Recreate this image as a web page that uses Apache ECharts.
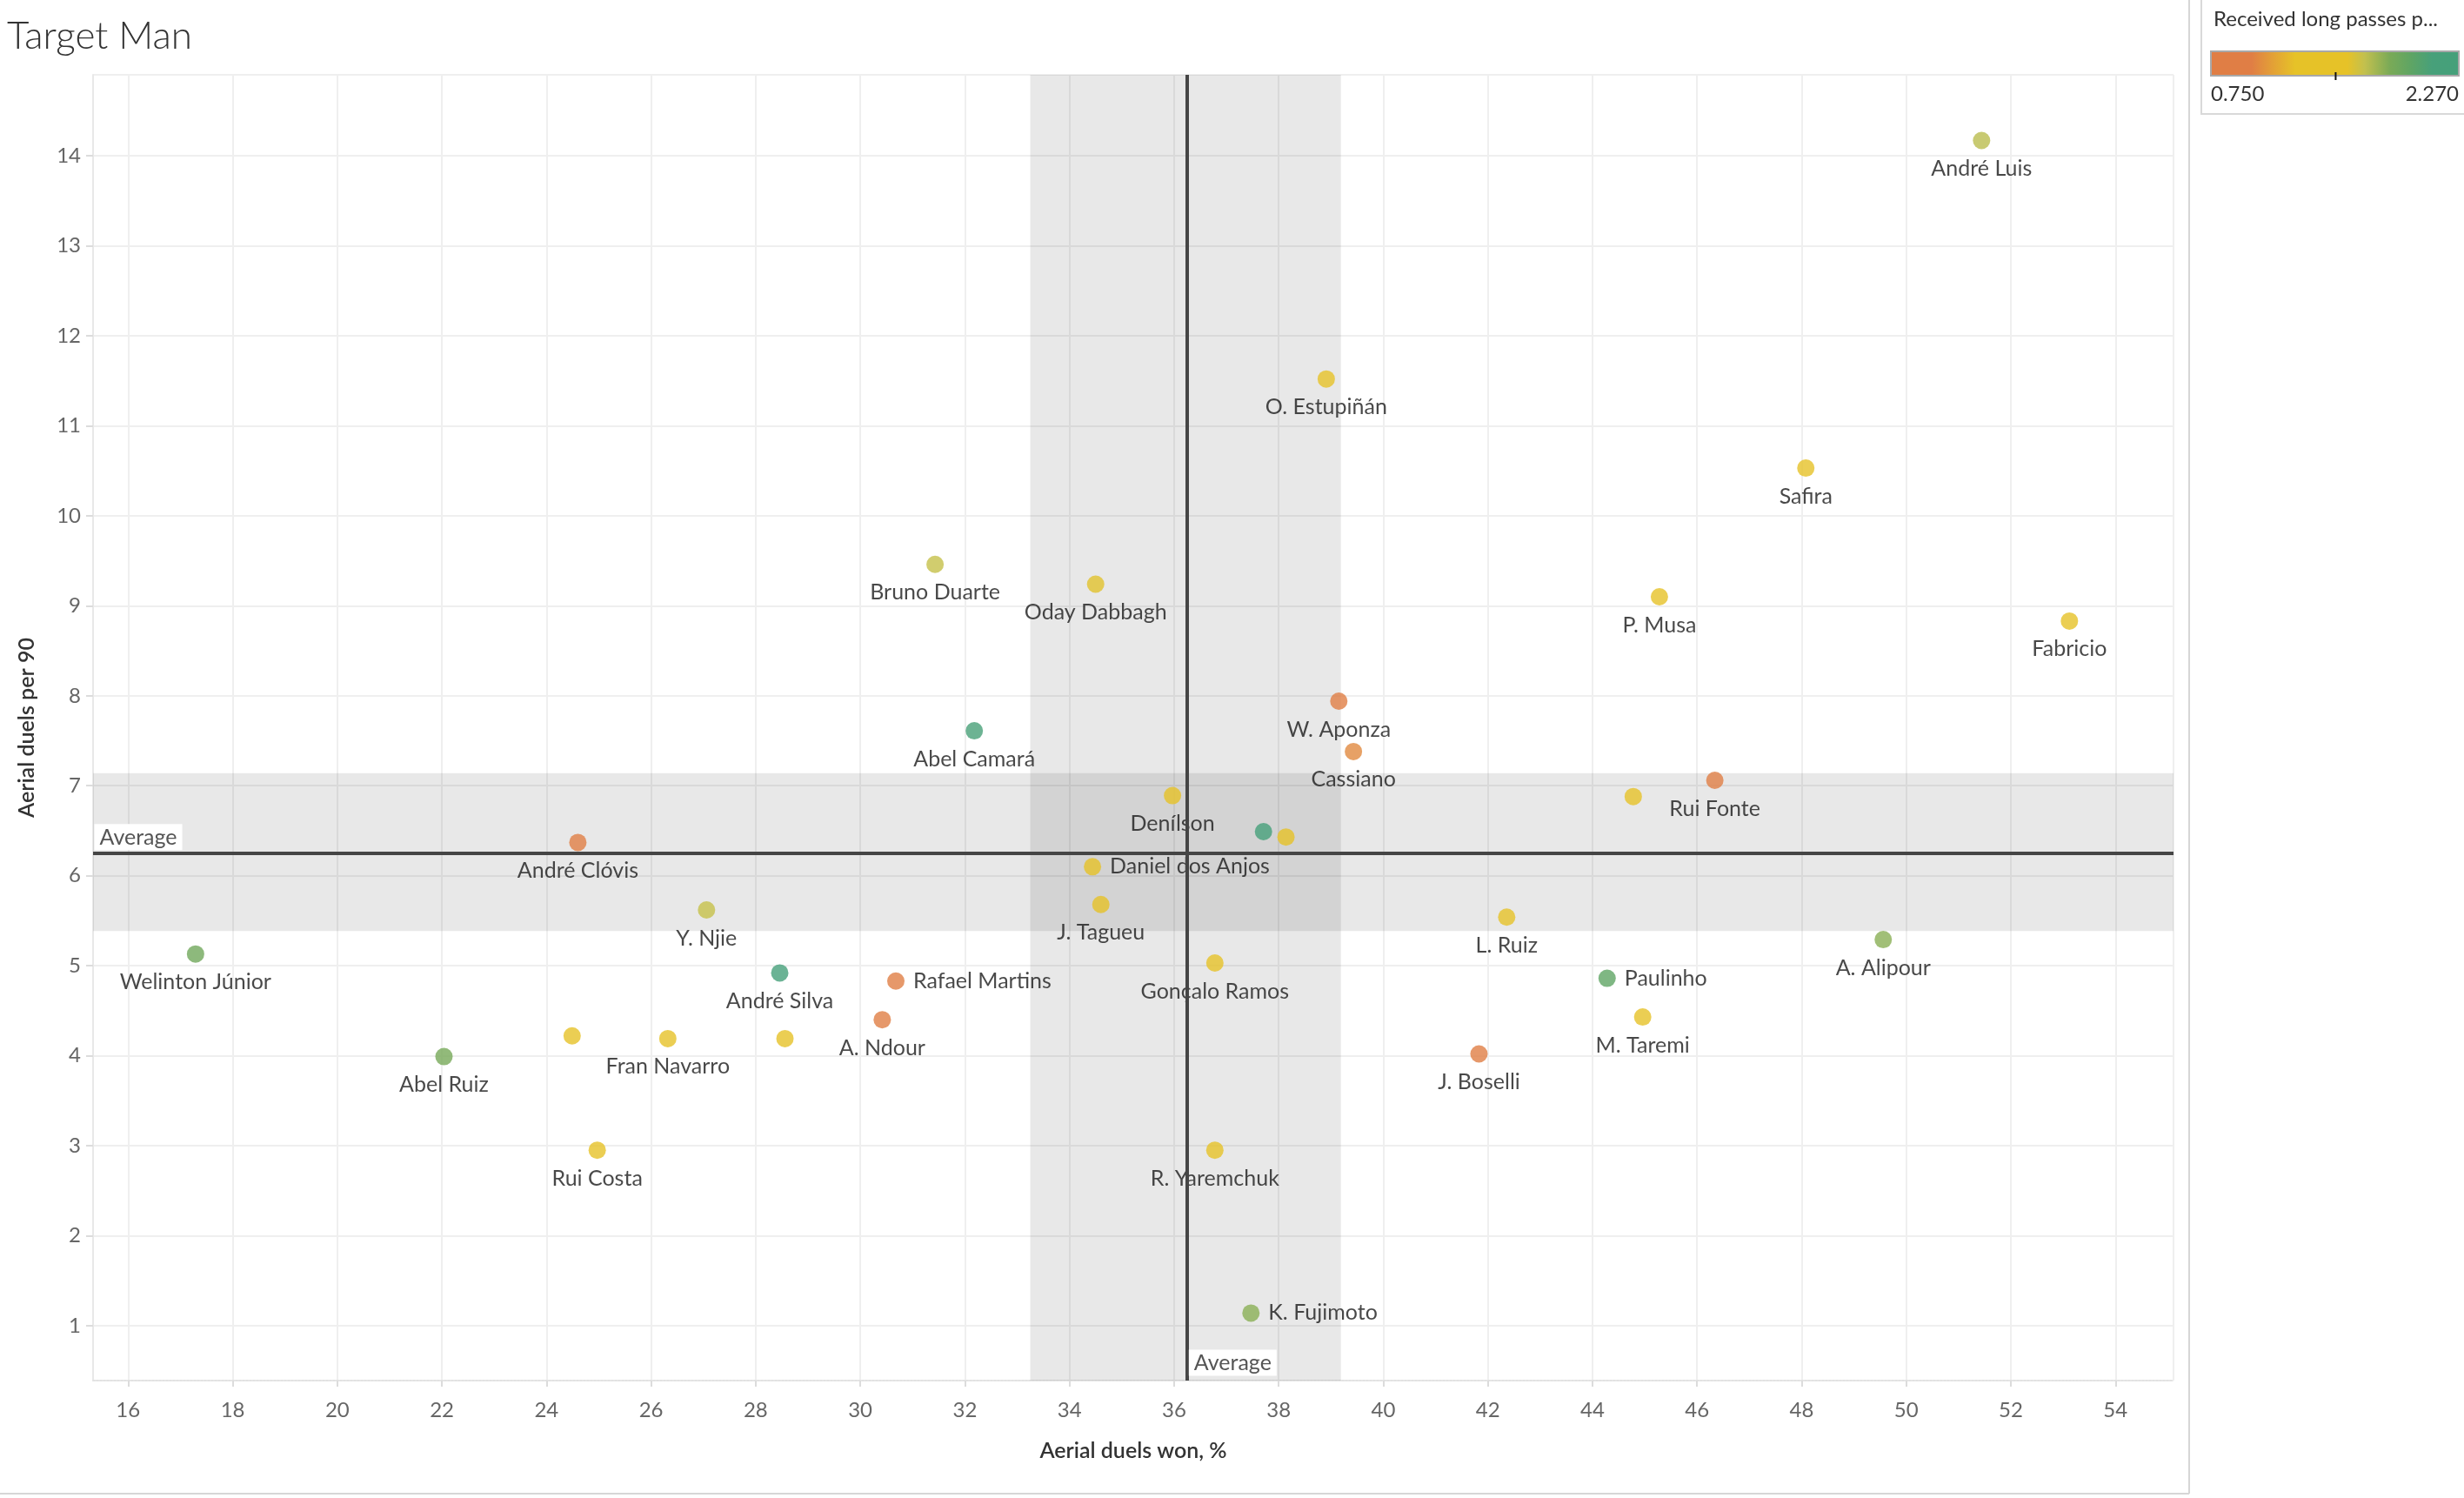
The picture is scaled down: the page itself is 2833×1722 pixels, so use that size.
<!DOCTYPE html>
<html>
<head>
<meta charset="utf-8">
<script src="https://cdn.jsdelivr.net/npm/echarts@6/dist/echarts.min.js"></script>
<style>
html,body{margin:0;padding:0;background:#fff;}
#chart{width:2833px;height:1722px;}
</style>
</head>
<body>
<div id="chart"></div>
<script>
// ---- data ----
const players = ["André Luis","O. Estupiñán","Safira","P. Musa","Fabricio","W. Aponza","Cassiano","Rui Fonte","","","","L. Ruiz","A. Alipour","Paulinho","M. Taremi","J. Boselli","K. Fujimoto","Gonçalo Ramos","R. Yaremchuk","Denílson","Daniel dos Anjos","J. Tagueu","André Clóvis","Y. Njie","Welinton Júnior","André Silva","Rafael Martins","A. Ndour","","Fran Navarro","","Abel Ruiz","Rui Costa","Bruno Duarte","Oday Dabbagh","Abel Camará"];
const aerialWonPct = [51.44,38.91,48.08,45.28,53.12,39.15,39.43,46.34,44.78,37.71,38.14,42.36,49.56,44.28,44.96,41.83,37.47,36.78,36.78,35.97,34.44,34.60,24.60,27.06,17.29,28.46,30.68,30.42,24.49,26.32,28.56,22.04,24.97,31.43,34.50,32.18];
const aerialPer90 = [14.17,11.52,10.53,9.10,8.83,7.94,7.38,7.06,6.88,6.49,6.43,5.54,5.29,4.86,4.43,4.02,1.14,5.03,2.95,6.89,6.10,5.68,6.37,5.62,5.13,4.92,4.83,4.40,4.22,4.19,4.19,3.99,2.95,9.46,9.24,7.61];
const longPassesP90 = [1.71,1.43,1.43,1.43,1.40,0.83,1.05,0.83,1.45,2.16,1.42,1.43,1.81,1.97,1.43,0.83,1.81,1.43,1.43,1.43,1.43,1.43,0.83,1.68,1.89,2.16,0.83,0.83,1.43,1.28,1.43,1.86,1.43,1.68,1.60,2.09];

const avgWonPct = 36.24;
const avgPer90 = 6.25;
const bandWonPct = [33.25, 39.19];
const bandPer90 = [5.385, 7.14];
const xRange = [15.33, 55.11];
const yRange = [0.39, 14.9];
const colorRange = [0.75, 2.27];
const colorRangeLabels = ["0.750", "2.270"];
const colorMidMark = 1.515;

// ---- styling config ----
const rightLabelled = new Set(["Daniel dos Anjos","Rafael Martins","Paulinho","K. Fujimoto"]);
const paletteStops = [[0,'#e07e45'],[0.167,'#e07e45'],[0.25,'#e3a036'],[0.34,'#e6c228'],[0.55,'#e6c228'],[0.62,'#c2c04e'],[0.72,'#7aaa57'],[0.8,'#60a563'],[0.89,'#47a07a'],[1,'#45a07a']];
const FONT = 'Lato, "Noto Sans", sans-serif';

function hexToRgb(h){h=h.replace('#','');return [parseInt(h.substr(0,2),16),parseInt(h.substr(2,2),16),parseInt(h.substr(4,2),16)];}
function colorFor(v){
  let t=(v-colorRange[0])/(colorRange[1]-colorRange[0]);
  t=Math.max(0,Math.min(1,t));
  for(let i=1;i<paletteStops.length;i++){
    const [t1,c1]=paletteStops[i-1],[t2,c2]=paletteStops[i];
    if(t<=t2){
      const f=t2===t1?0:(t-t1)/(t2-t1);
      const a=hexToRgb(c1),b=hexToRgb(c2);
      return 'rgb('+a.map((x,k)=>Math.round(x+(b[k]-x)*f)).join(',')+')';
    }
  }
  return paletteStops[paletteStops.length-1][1];
}

const points = players.map((n,i)=>{
  const item={value:[aerialWonPct[i],aerialPer90[i],longPassesP90[i],n],itemStyle:{color:colorFor(longPassesP90[i])}};
  if(rightLabelled.has(n)) item.label={position:'right',distance:10};
  return item;
});

const chart = echarts.init(document.getElementById('chart'));

// legend geometry
const lgX=2542, lgW=285, lgY=59, lgH=28;
const midFrac=(colorMidMark-colorRange[0])/(colorRange[1]-colorRange[0]);

const option = {
  animation:false,
  backgroundColor:'#fff',
  title:{text:'Target Man',left:3,top:15,textStyle:{fontFamily:FONT,fontSize:44,fontWeight:300,color:'#333'}},
  grid:{left:107,right:334,top:86,bottom:135},
  xAxis:{
    type:'value',min:xRange[0],max:xRange[1],splitNumber:20,
    name:'Aerial duels won, %',nameLocation:'middle',nameGap:68,
    nameTextStyle:{fontFamily:FONT,fontSize:25,fontWeight:600,color:'#333'},
    axisLine:{show:true,lineStyle:{color:'#e2e2e2',width:2,type:'dotted'}},
    axisTick:{show:true,length:7,lineStyle:{color:'#dcdcdc',width:2}},
    axisLabel:{showMinLabel:false,showMaxLabel:false,fontFamily:FONT,fontSize:24,color:'#666',margin:22},
    splitLine:{show:true,lineStyle:{color:'#efefef',width:2}}
  },
  yAxis:{
    type:'value',min:yRange[0],max:yRange[1],splitNumber:14,
    name:'Aerial duels per 90',nameLocation:'middle',nameGap:64,
    nameTextStyle:{fontFamily:FONT,fontSize:25,fontWeight:600,color:'#333'},
    axisLine:{show:true,lineStyle:{color:'#e8e8e8',width:2}},
    axisTick:{show:true,length:8,lineStyle:{color:'#dcdcdc',width:2}},
    axisLabel:{showMinLabel:false,showMaxLabel:false,fontFamily:FONT,fontSize:24,color:'#666',margin:14},
    splitLine:{show:true,lineStyle:{color:'#efefef',width:2}}
  },
  series:[
    {
      type:'scatter',data:[],z:-1,silent:true,
      markArea:{
        silent:true,
        itemStyle:{color:'rgba(0,0,0,0.09)'},
        data:[
          [{xAxis:bandWonPct[0],yAxis:yRange[0]},{xAxis:bandWonPct[1],yAxis:yRange[1]}],
          [{xAxis:xRange[0],yAxis:bandPer90[0]},{xAxis:xRange[1],yAxis:bandPer90[1]}]
        ]
      }
    },
    {
      type:'scatter',data:[],z:1,silent:true,
      markLine:{
        silent:true,symbol:'none',animation:false,
        lineStyle:{color:'#454545',width:4,type:'solid'},
        label:{show:false},
        data:[{xAxis:avgWonPct},{yAxis:avgPer90}]
      },
      markPoint:{
        silent:true,symbol:'rect',symbolSize:1,itemStyle:{color:'rgba(0,0,0,0)'},
        label:{show:true,formatter:'Average',fontFamily:FONT,fontSize:25,color:'#555',backgroundColor:'#fff',padding:[3,6,2,6]},
        data:[
          {coord:[xRange[0],avgPer90],label:{position:[2,-33]}},
          {coord:[avgWonPct,yRange[0]],label:{position:[3,-35]}}
        ]
      }
    },
    {
      type:'scatter',z:3,symbolSize:20,
      data:points,
      emphasis:{disabled:true},
      label:{
        show:true,position:'bottom',distance:10,
        formatter:p=>p.value[3],
        fontFamily:FONT,fontSize:25,color:'#1a1a1a'
      }
    }
  ],
  graphic:[
    {type:'line',shape:{x1:2517,y1:0,x2:2517,y2:1717},style:{stroke:'#d6d6d6',lineWidth:2},silent:true},
    {type:'line',shape:{x1:0,y1:1717,x2:2517,y2:1717},style:{stroke:'#d6d6d6',lineWidth:2},silent:true},
    {type:'rect',shape:{x:2531,y:-3,width:320,height:134},style:{fill:'#fff',stroke:'#d9d9d9',lineWidth:2},silent:true},
    {type:'text',x:2545,y:10,style:{text:'Received long passes p...',font:'24px '+FONT,fill:'#333'},silent:true},
    {type:'rect',shape:{x:lgX,y:lgY,width:lgW,height:lgH},style:{
      fill:new echarts.graphic.LinearGradient(0,0,1,0,paletteStops.map(s=>({offset:s[0],color:s[1]}))),
      stroke:'#a8a8a8',lineWidth:2},silent:true},
    {type:'line',shape:{x1:lgX+lgW*midFrac,y1:lgY+lgH-4,x2:lgX+lgW*midFrac,y2:lgY+lgH+5},style:{stroke:'#111',lineWidth:2},silent:true},
    {type:'text',x:lgX,y:96,style:{text:colorRangeLabels[0],font:'24px '+FONT,fill:'#333',textAlign:'left'},silent:true},
    {type:'text',x:lgX+lgW,y:96,style:{text:colorRangeLabels[1],font:'24px '+FONT,fill:'#333',textAlign:'right'},silent:true}
  ]
};
chart.setOption(option);
</script>
</body>
</html>
